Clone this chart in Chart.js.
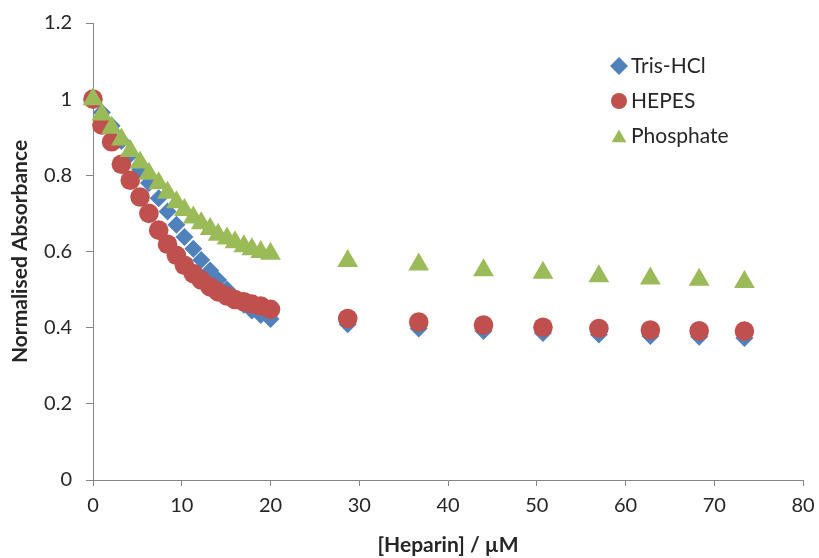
<!DOCTYPE html>
<html lang="en">
<head>
<meta charset="UTF-8">
<title>Normalised Absorbance vs Heparin</title>
<script src="https://cdn.jsdelivr.net/npm/chart.js"></script>
<style>
  html, body { margin: 0; padding: 0; background: #fff; }
  #chart { display: block; }
</style>
</head>
<body>
<canvas id="chart" width="819" height="558"></canvas>
<script>
// values
const heparin = [0, 1.0, 2.1, 3.2, 4.2, 5.3, 6.3, 7.4, 8.4, 9.4, 10.3, 11.3, 12.2, 13.2, 14.1, 15.1, 16.0, 17.0, 17.9, 18.9, 20.0,
                 28.7, 36.7, 44.0, 50.7, 57.0, 62.8, 68.3, 73.4];
const trisHcl = [1.0, 0.965, 0.93, 0.89, 0.855, 0.815, 0.78, 0.74, 0.705, 0.67, 0.638, 0.607, 0.578, 0.55, 0.525, 0.50, 0.478, 0.46, 0.445, 0.433, 0.423,
                 0.409, 0.398, 0.391, 0.386, 0.382, 0.378, 0.376, 0.373];
const hepes = [1.0, 0.932, 0.888, 0.829, 0.787, 0.743, 0.700, 0.656, 0.619, 0.590, 0.564, 0.542, 0.525, 0.507, 0.494, 0.483, 0.474, 0.468, 0.462, 0.457, 0.448,
               0.424, 0.415, 0.407, 0.401, 0.398, 0.394, 0.392, 0.391];
const phosphate = [1.0, 0.96, 0.925, 0.894, 0.864, 0.834, 0.804, 0.779, 0.754, 0.729, 0.709, 0.689, 0.674, 0.659, 0.644, 0.634, 0.624, 0.614, 0.606, 0.599, 0.594,
                   0.575, 0.566, 0.551, 0.544, 0.535, 0.529, 0.526, 0.520];
const seriesNames = ['Tris-HCl', 'HEPES', 'Phosphate'];
const xTicks = [0, 10, 20, 30, 40, 50, 60, 70, 80];
const yTicks = [0, 0.2, 0.4, 0.6, 0.8, 1, 1.2];

function pts(ys) {
    const out = [];
    for (var i = 0; i < heparin.length; i++) {
        out.push({ x: heparin[i], y: ys[i] });
    }
    return out;
}

const axisGrey = '#868686';
const textCol = '#262626';
const fontFam = 'Lato, "Open Sans", sans-serif';

// legend inside the plot, drawn with the dataset styles
const innerLegend = {
    id: 'innerLegend',
    afterDraw(chart) {
        const ctx = chart.ctx;
        const rows = [66, 101, 136];
        const sizes = [9, 8, 8.5];
        ctx.save();
        chart.data.datasets.forEach(function (ds, i) {
            ctx.fillStyle = ds.backgroundColor;
            const yy = ds.pointStyle === 'triangle' ? rows[i] + 2 : rows[i];
            Chart.helpers.drawPoint(ctx, { pointStyle: ds.pointStyle, radius: sizes[i], rotation: 0, borderWidth: 0 }, 619, yy);
            ctx.fillStyle = textCol;
            ctx.font = '21px ' + fontFam;
            ctx.textBaseline = 'middle';
            ctx.textAlign = 'left';
            ctx.fillText(ds.label, 631, rows[i]);
        });
        ctx.restore();
    }
};

new Chart(document.getElementById('chart'), {
    type: 'scatter',
    data: {
        datasets: [
            { label: seriesNames[0], data: pts(trisHcl), pointStyle: 'rectRot', pointRadius: 9,
              backgroundColor: '#4F81BD', borderColor: '#4F81BD', borderWidth: 0, order: 3, clip: false },
            { label: seriesNames[1], data: pts(hepes), pointStyle: 'circle', pointRadius: 9.8,
              backgroundColor: '#C0504D', borderColor: '#C0504D', borderWidth: 0, order: 2, clip: false },
            { label: seriesNames[2], data: pts(phosphate), pointStyle: 'triangle', pointRadius: 12,
              backgroundColor: '#9BBB59', borderColor: '#9BBB59', borderWidth: 0, order: 1, clip: false }
        ]
    },
    options: {
        responsive: false,
        animation: false,
        layout: { padding: { top: 23, right: 16, left: 0, bottom: 0 } },
        plugins: {
            legend: { display: false },
            tooltip: { enabled: false }
        },
        scales: {
            x: {
                type: 'linear',
                min: 0,
                max: 80,
                afterFit: function (s) { s.height = 78; s.paddingLeft = 0; s.paddingRight = 0; },
                afterBuildTicks: function (s) { s.ticks = xTicks.map(function (v) { return { value: v }; }); },
                grid: { display: true, drawOnChartArea: false, drawTicks: true, tickLength: 6, color: axisGrey },
                border: { display: true, color: axisGrey },
                ticks: { color: textCol, padding: 8, font: { family: fontFam, size: 20 } },
                title: { display: true, text: '[Heparin] / µM', color: textCol, padding: { top: 0, bottom: 0 },
                         font: { family: fontFam, size: 21, weight: 'bold' } }
            },
            y: {
                type: 'linear',
                min: 0,
                max: 1.2,
                afterFit: function (s) { s.width = 93; s.paddingTop = 0; s.paddingBottom = 0; },
                afterBuildTicks: function (s) { s.ticks = yTicks.map(function (v) { return { value: v }; }); },
                grid: { display: true, drawOnChartArea: false, drawTicks: true, tickLength: 7, color: axisGrey },
                border: { display: true, color: axisGrey },
                ticks: {
                    color: textCol, padding: 14, font: { family: fontFam, size: 20 },
                    callback: function (v) { return String(Math.round(v * 10) / 10); }
                },
                title: { display: true, text: 'Normalised Absorbance', color: textCol, padding: { top: 8, bottom: 0 },
                         font: { family: fontFam, size: 21, weight: 'bold' } }
            }
        }
    },
    plugins: [innerLegend]
});
</script>
</body>
</html>
